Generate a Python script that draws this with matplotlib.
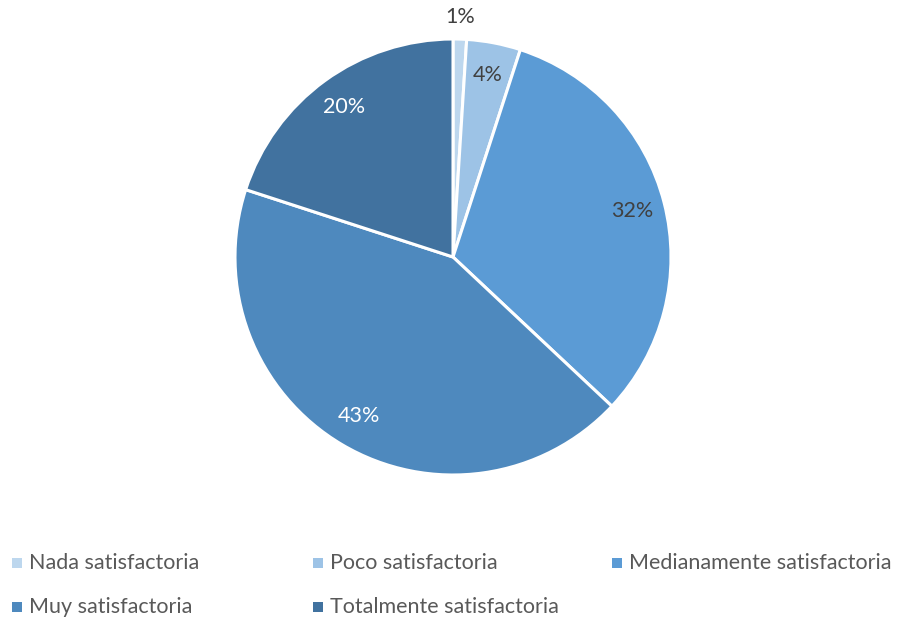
import matplotlib.pyplot as plt
from matplotlib.patches import Rectangle

categorias = ['Nada satisfactoria', 'Poco satisfactoria', 'Medianamente satisfactoria',
              'Muy satisfactoria', 'Totalmente satisfactoria']
porcentajes = [1, 4, 32, 43, 20]
colores = ['#BDD7EE', '#9DC3E6', '#5B9BD5', '#4E89BE', '#41729F']
color_etiqueta = ['#404040', '#404040', '#404040', 'white', 'white']

plt.rcParams['font.family'] = ['Lato', 'DejaVu Sans']

W, H = 909, 623
fig = plt.figure(figsize=(W / 100, H / 100), dpi=100)

# pie centred at (453, 257) px from top-left, radius 218 px
cx, cy, r_px, half = 453, 257, 218, 240
ax = fig.add_axes([(cx - half) / W, (H - cy - half) / H, 2 * half / W, 2 * half / H])

wedges, textos = ax.pie(porcentajes, colors=colores, startangle=90, counterclock=False,
                        radius=1, labels=[f'{p}%' for p in porcentajes], labeldistance=0.85,
                        wedgeprops=dict(edgecolor='white', linewidth=2.2),
                        textprops=dict(fontsize=15.5))
# pie() sets its own limits, so fix them afterwards
lim = half / r_px
ax.set_xlim(-lim, lim)
ax.set_ylim(-lim, lim)
ax.set_aspect('equal')
ax.axis('off')

for t, c in zip(textos, color_etiqueta):
    t.set_color(c)
    t.set_ha('center')
    t.set_va('center')
# the smallest slice gets its label outside
x, y = textos[0].get_position()
textos[0].set_position((x / 0.85 * 1.10, y / 0.85 * 1.10))

# legend, three columns
col_x = [17, 318, 617]
fila_y = [563, 607]
for i, (nombre, col) in enumerate(zip(categorias, colores)):
    mx = col_x[i % 3]
    my = fila_y[i // 3]
    fig.patches.append(Rectangle(((mx - 5) / W, (H - my - 5) / H), 10 / W, 10 / H,
                                 transform=fig.transFigure, facecolor=col, edgecolor='none'))
    fig.text((mx + 12) / W, (H - my) / H, nombre, fontsize=15.5, color='#595959',
             ha='left', va='center')

fig.savefig('out.png', dpi=100)
